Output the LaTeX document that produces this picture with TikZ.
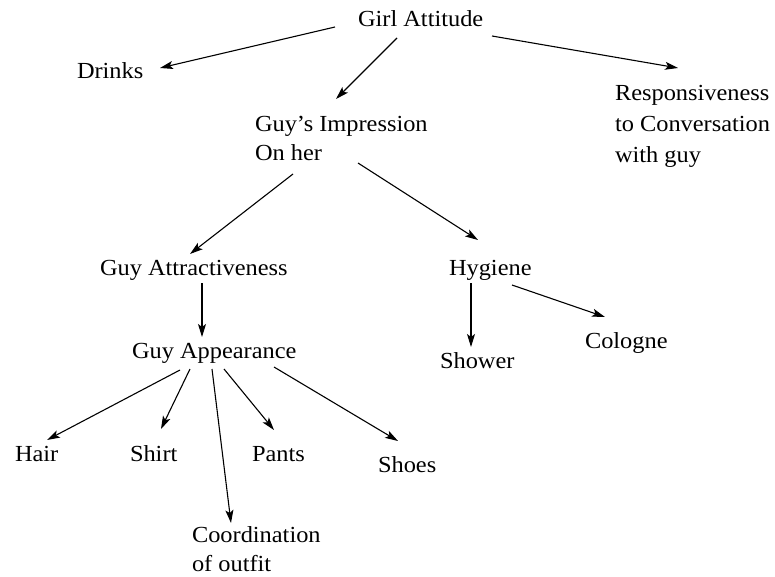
\documentclass[tikz,border=0pt]{standalone}
\usepackage{fontspec}
\setmainfont{Liberation Serif}[FakeStretch=1.06]
\usetikzlibrary{arrows.meta}
\begin{document}
\begin{tikzpicture}[x=1pt,y=-1pt,
  lbl/.style={inner sep=0pt,outer sep=0pt,anchor=base west,font=\fontsize{23}{30}\selectfont},
  mlbl/.style={inner sep=0pt,outer sep=0pt,anchor=north west,align=left,font=\fontsize{23}{30}\selectfont},
  arr/.style={-{Stealth[length=13pt,width=8pt,inset=3pt]},line width=1.1pt,black}]
\useasboundingbox[fill=white] (0,0) rectangle (775,577);
% nodes
\node[lbl] (girl) at (358,27) {Girl Attitude};
\node[lbl] (drinks) at (77,79) {Drinks};
\node[mlbl,font=\fontsize{23}{31}\selectfont] (resp) at (615,85) {Responsiveness\\to Conversation\\with guy};
\node[mlbl,font=\fontsize{23}{29}\selectfont] (imp) at (255,116) {Guy’s Impression\\On her};
\node[lbl] (attr) at (100,275) {Guy Attractiveness};
\node[lbl] (hyg) at (449,275) {Hygiene};
\node[lbl] (app) at (132,358) {Guy Appearance};
\node[lbl] (shower) at (440,368) {Shower};
\node[lbl] (cologne) at (585,348) {Cologne};
\node[lbl] (hair) at (15,461) {Hair};
\node[lbl] (shirt) at (130,461) {Shirt};
\node[lbl] (pants) at (252,461) {Pants};
\node[lbl] (shoes) at (378,472) {Shoes};
\node[mlbl,font=\fontsize{23}{29}\selectfont] (coord) at (192,527) {Coordination\\of outfit};
% connectors
\draw[arr] ([shift={(-23,0)}]girl.base west) -- ([shift={(83,-11)}]drinks.base west);
\draw[arr] ([shift={(39,11)}]girl.base west) -- ([shift={(81,-17)}]imp.north west);
\draw[arr] ([shift={(134,9)}]girl.base west) -- ([shift={(63,-17)}]resp.north west);
\draw[arr] ([shift={(38,58)}]imp.north west) -- ([shift={(90,-21)}]attr.base west);
\draw[arr] ([shift={(103,47)}]imp.north west) -- ([shift={(29,-35)}]hyg.base west);
\draw[arr] ([shift={(102,8)}]attr.base west) -- ([shift={(70,-21)}]app.base west);
\draw[arr] ([shift={(22,8)}]hyg.base west) -- ([shift={(31,-21)}]shower.base west);
\draw[arr] ([shift={(63,10)}]hyg.base west) -- ([shift={(20,-31)}]cologne.base west);
\draw[arr] ([shift={(48,12)}]app.base west) -- ([shift={(32,-21)}]hair.base west);
\draw[arr] ([shift={(58,11)}]app.base west) -- ([shift={(31,-32)}]shirt.base west);
\draw[arr] ([shift={(80,11)}]app.base west) -- ([shift={(39,-4)}]coord.north west);
\draw[arr] ([shift={(92,11)}]app.base west) -- ([shift={(22,-31)}]pants.base west);
\draw[arr] ([shift={(142,9)}]app.base west) -- ([shift={(20,-31)}]shoes.base west);
\end{tikzpicture}
\end{document}
